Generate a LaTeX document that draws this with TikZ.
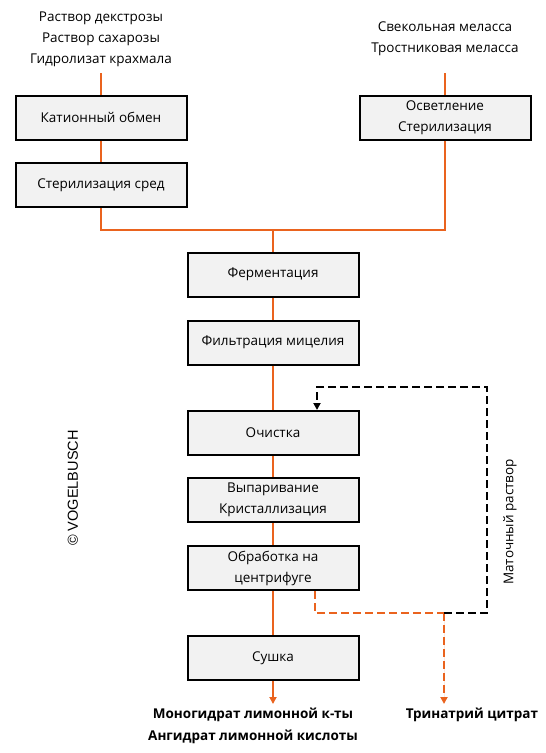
\documentclass[tikz,border=0pt]{standalone}
\usepackage{fontspec}
\setmainfont{Open Sans}
\newfontfamily\arialfont{Liberation Sans}
\usetikzlibrary{arrows.meta,calc}
\definecolor{orng}{RGB}{234,99,30}
\definecolor{boxfill}{RGB}{242,242,242}
\tikzset{
  proc/.style={draw=black, line width=2pt, fill=boxfill, minimum width=171pt, minimum height=44pt, align=center, inner sep=0pt, font=\fontsize{13.5}{21}\selectfont},
  lbl/.style={align=center, inner sep=0pt, font=\fontsize{13.5}{21}\selectfont},
  outlbl/.style={align=center, inner sep=0pt, font=\fontsize{13.5}{22}\selectfont\bfseries},
  flow/.style={draw=orng, line width=1.8pt},
  tipo/.style={-{Triangle[width=7pt,length=7pt]}},
  dsho/.style={draw=orng, line width=1.8pt, dash pattern=on 8pt off 4pt},
  dshk/.style={draw=black, line width=1.8pt, dash pattern=on 8pt off 4pt},
}
\begin{document}
\begin{tikzpicture}[x=1pt,y=-1pt]
\useasboundingbox (0,0) rectangle (546,753);
% sources
\node[lbl] (src1) at (101,39) {Раствор декстрозы\\Раствор сахарозы\\Гидролизат крахмала};
\node[lbl] (src2) at (445,38.5) {Свекольная меласса\\Тростниковая меласса};
\coordinate (t1) at (101,73);
\coordinate (t2) at (445,73);
% boxes
\node[proc] (kat) at (101,117.5) {Катионный обмен};
\node[proc] (ster) at (101,185) {Стерилизация сред};
\node[proc] (osv) at (445,117.5) {Осветление\\Стерилизация};
\node[proc] (ferm) at (273,274.5) {Ферментация};
\node[proc] (filt) at (273,342.5) {Фильтрация мицелия};
\node[proc] (och) at (273,433) {Очистка};
\node[proc] (vyp) at (273,500) {Выпаривание\\Кристаллизация};
\node[proc] (obr) at (273,568) {Обработка на\\центрифуге};
\node[proc] (sush) at (273,658) {Сушка};
% outputs
\node[outlbl] (p1) at (253,726) {Моногидрат лимонной к-ты\\Ангидрат лимонной кислоты};
\node[outlbl] (p2) at (472,715) {Тринатрий цитрат};
\coordinate (e1) at (273,704);
\coordinate (e2) at (444,704);
% side labels
\node[lbl, rotate=90] (mr) at (510,522) {Маточный раствор};
\node[inner sep=0pt, rotate=90, font=\arialfont\fontsize{14.5}{16}\selectfont] (vb) at (73,488) {© VOGELBUSCH};
% solid flow
\draw[flow] (t1) -- (kat.north);
\draw[flow] (t2) -- (osv.north);
\draw[flow] (kat) -- (ster);
\coordinate (j) at (273,230);
\draw[flow] (ster.south) |- (j);
\draw[flow] (osv.south) |- (j);
\draw[flow] (j) -- (ferm.north);
\draw[flow] (ferm) -- (filt);
\draw[flow] (filt) -- (och);
\draw[flow] (och) -- (vyp);
\draw[flow] (vyp) -- (obr);
\draw[flow] (obr) -- (sush);
\draw[flow, tipo, fill=orng] (sush.south) -- (e1);
% dashed recycle
\coordinate (d0) at ($(obr.south)+(42,0)$);
\coordinate (d1) at (444,613);
\coordinate (d2) at (487,613);
\coordinate (d3) at (487,387);
\coordinate (d4) at (317,387);
\coordinate (d5) at ($(och.north)+(44,0)$);
\draw[dsho] (d0) |- (d1);
\draw[dsho, tipo, fill=orng] (d1) -- (e2);
\draw[dshk, -{Triangle[width=7pt,length=7pt]}] (d1) -- (d2) -- (d3) -- (d4) -- (d5);
\end{tikzpicture}
\end{document}
